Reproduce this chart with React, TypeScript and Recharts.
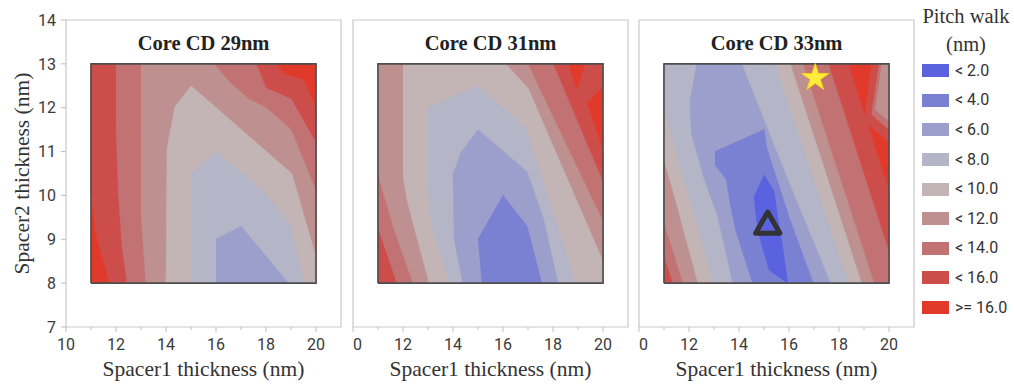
import { ReferenceArea, Scatter, ScatterChart, Symbols, XAxis, YAxis } from "recharts";

type Pt = [number, number];
type Region = { below: number; points: Pt[] };

const levelLabels = ["< 2.0", "< 4.0", "< 6.0", "< 8.0", "< 10.0", "< 12.0", "< 14.0", "< 16.0", ">= 16.0"];
const levelColors = ["#5a62e0", "#7a80d2", "#9c9ecb", "#b4b6c7", "#c3b4b5", "#be9090", "#c27272", "#cd4d4a", "#e23a2a"];

const xTicks = [10, 11, 12, 13, 14, 15, 16, 17, 18, 19, 20];
const yTicks = [7, 8, 9, 10, 11, 12, 13, 14];

// simulated grid: spacer1 11..20, spacer2 8..13
const contourBox: Pt[] = [[11, 8], [11, 13], [20, 13], [20, 8]];

// regions where pitch walk < `below`, drawn from outer to inner level
const cd29Regions: Region[] = [
  { below: 16, points: [[11, 10.0], [11, 13], [18.4, 13], [18.7, 12.78], [19.5, 12.63], [20, 12.0], [20, 8], [11.75, 8], [11.4, 8.7], [11.15, 9.3]] },
  { below: 14, points: [[12.0, 13], [17.6, 13], [18.0, 12.45], [19.0, 12.2], [20, 11.2], [20, 8], [12.45, 8], [12.25, 8.8], [12.1, 10.0], [12.0, 11.6]] },
  { below: 12, points: [[13.0, 13], [15.9, 13], [16.6, 12.55], [17.3, 12.2], [18.0, 12.0], [19.0, 11.5], [20, 10.1], [20, 8], [13.2, 8], [13.0, 9.6]] },
  { below: 10, points: [[15.0, 12.5], [19.03, 10.5], [20, 8.6], [20, 8], [14.0, 8], [14.04, 11.07], [14.36, 12.03]] },
  { below: 8, points: [[15.0, 10.5], [16.0, 11.0], [17.9, 10.1], [19.0, 9.3], [19.5, 8], [15.0, 8]] },
  { below: 6, points: [[16.0, 9.0], [17.0, 9.3], [18.9, 8], [16.0, 8]] },
];

const cd31Regions: Region[] = [
  { below: 16, points: [[11, 8], [11, 13], [18.6, 13], [18.96, 12.4], [19.3, 13], [20, 13], [20, 12.5], [19.35, 12.1], [20, 11.0], [20, 8]] },
  { below: 14, points: [[11, 9.25], [11, 13], [18.0, 13], [18.3, 12.6], [20, 10.3], [20, 8], [11.75, 8]] },
  { below: 12, points: [[11, 10.46], [11, 13], [17.0, 13], [17.4, 12.5], [20, 9.4], [20, 8], [12.4, 8], [11.6, 9.3]] },
  { below: 10, points: [[12.0, 13], [16.1, 13], [17.0, 12.45], [20, 8.5], [20, 8], [13.05, 8], [12.5, 9.16], [12.15, 9.93], [12.0, 10.46]] },
  { below: 8, points: [[13.0, 12.0], [15.0, 12.5], [16.9, 11.55], [18.9, 8], [13.88, 8], [13.15, 9.3], [13.0, 10.1]] },
  { below: 6, points: [[14.3, 10.96], [15.0, 11.5], [16.96, 10.54], [17.6, 9.5], [18.2, 8], [14.4, 8], [14.05, 9.0], [14.0, 10.5]] },
  { below: 4, points: [[15.0, 9.0], [16.0, 10.0], [16.96, 9.3], [17.55, 8], [15.15, 8]] },
];

const cd33Regions: Region[] = [
  { below: 16, points: [[11, 8], [11, 13], [18.37, 13], [20, 10.1], [20, 8]] },
  { below: 16, points: [[19.3, 13], [20, 13], [20, 11.22], [19.0, 11.7]] },
  { below: 14, points: [[11, 8.6], [11, 13], [17.57, 13], [20, 8.7], [20, 8], [11.35, 8]] },
  { below: 14, points: [[19.6, 13], [20, 13], [20, 11.5], [19.3, 11.85]] },
  { below: 12, points: [[11, 9.37], [11, 13], [16.55, 13], [19.4, 8], [11.76, 8]] },
  { below: 12, points: [[19.7, 13], [20, 13], [20, 11.7], [19.45, 11.95]] },
  { below: 10, points: [[11, 10.8], [11, 13], [16.05, 13], [18.9, 8], [12.36, 8], [11.6, 9.6]] },
  { below: 8, points: [[11, 12.0], [11, 13], [15.43, 13], [18.36, 8], [12.96, 8], [12.2, 9.6], [11.55, 10.8]] },
  { below: 6, points: [[12.3, 13], [14.1, 13], [15.85, 10.5], [17.65, 8], [13.76, 8], [13.15, 9.52], [12.6, 10.4], [12.1, 11.4], [12.04, 12.18]] },
  { below: 4, points: [[13.04, 11.0], [15.0, 11.5], [15.1, 11.1], [16.04, 9.44], [16.97, 8], [14.55, 8], [13.9, 9.14], [13.64, 9.83], [13.5, 10.36], [13.04, 10.7]] },
  { below: 2, points: [[15.0, 10.47], [15.4, 10.1], [15.55, 9.5], [15.75, 8.8], [15.95, 8.0], [15.2, 8.3], [15.05, 8.6], [14.75, 9.2], [14.6, 9.98]] },
];

const starPoint = [{ x: 17.05, y: 12.68 }];
const trianglePoint = [{ x: 15.15, y: 9.3 }];

const SERIF = "'Liberation Serif', 'Times New Roman', serif";
const SANS = "'Liberation Sans Narrow', 'Arial Narrow', Roboto, sans-serif";

const toXY = (pts: Pt[]) => pts.map(([x, y]) => ({ x, y }));
const colorFor = (below: number) => levelColors[below / 2 - 1];
const noShape = () => null;

// first label of the 2nd and 3rd panels only shows its last digit
const makeXTick = (trimFirst: boolean) =>
  function XTick(props: any) {
    const { x, y, payload } = props;
    const major = payload.value % 2 === 0;
    const trimmed = trimFirst && payload.value === 10;
    return (
      <g>
        <line x1={x} x2={x} y1={y} y2={y + (major ? 5 : 3)} stroke="#bdbdbd" />
        {major && (
          <text
            x={x}
            y={y + 12}
            dy="0.71em"
            textAnchor={trimmed ? "start" : "middle"}
            fill="#3a3a3a"
            fontSize={16}
            fontFamily={SANS}
          >
            {trimmed ? "0" : payload.value}
          </text>
        )}
      </g>
    );
  };

const fullTick = makeXTick(false);
const trimmedTick = makeXTick(true);

function yTitle(props: any) {
  const vb = props.viewBox ?? { x: 0, y: 20, width: 66, height: 307 };
  const cx = vb.x + 22;
  const cy = vb.y + vb.height / 2;
  return (
    <text
      x={cx}
      y={cy}
      transform={`rotate(-90 ${cx} ${cy})`}
      textAnchor="middle"
      dominantBaseline="central"
      fill="#333"
      fontSize={21.5}
      fontFamily={SERIF}
    >
      Spacer2 thickness (nm)
    </text>
  );
}

function Panel({
  title,
  regions,
  left,
  width,
  withYAxis,
  markers,
}: {
  title: string;
  regions: Region[];
  left: number;
  width: number;
  withYAxis?: boolean;
  markers?: boolean;
}) {
  const margin = withYAxis ? { top: 20, right: 4, bottom: 0, left: 0 } : { top: 20, right: 3, bottom: 0, left: 1 };
  return (
    <div style={{ position: "absolute", left, top: 0, width, height: 388, overflow: "hidden" }}>
      <ScatterChart width={width} height={388} margin={margin}>
        <XAxis
          type="number"
          dataKey="x"
          domain={[10, 21]}
          ticks={xTicks}
          interval={0}
          tick={withYAxis ? fullTick : trimmedTick}
          tickLine={false}
          tickSize={0}
          tickMargin={0}
          axisLine={false}
          height={61}
          label={{
            value: "Spacer1 thickness (nm)",
            position: "insideBottom",
            offset: 12,
            fill: "#333",
            fontSize: 21.5,
            fontFamily: SERIF,
          }}
        />
        {withYAxis ? (
          <YAxis
            type="number"
            dataKey="y"
            domain={[7, 14]}
            ticks={yTicks}
            interval={0}
            width={66}
            axisLine={false}
            tickLine={{ stroke: "#bdbdbd" }}
            tickSize={5}
            tickMargin={5}
            tick={{ fill: "#3a3a3a", fontSize: 16, fontFamily: SANS }}
            label={yTitle}
          />
        ) : (
          <YAxis type="number" dataKey="y" domain={[7, 14]} hide />
        )}
        <ReferenceArea x1={10} x2={21} y1={7} y2={14} fill="none" stroke="#c9c9c9" strokeWidth={1.2} />
        <ReferenceArea
          x1={11}
          x2={20}
          y1={12.95}
          y2={14}
          fill="none"
          stroke="none"
          label={{ value: title, position: "center", fill: "#222", fontSize: 20.5, fontWeight: "bold", fontFamily: SERIF }}
        />
        <Scatter
          data={toXY(contourBox)}
          shape={noShape}
          line={{ fill: levelColors[8], stroke: levelColors[8], strokeWidth: 0.5 }}
          isAnimationActive={false}
        />
        {regions.map((r, i) => (
          <Scatter
            key={i}
            data={toXY(r.points)}
            shape={noShape}
            line={{ fill: colorFor(r.below), stroke: colorFor(r.below), strokeWidth: 0.6 }}
            isAnimationActive={false}
          />
        ))}
        <Scatter
          data={toXY([...contourBox, contourBox[0]])}
          shape={noShape}
          line={{ fill: "none", stroke: "#4d4d4d", strokeWidth: 1.6, strokeLinejoin: "miter" }}
          isAnimationActive={false}
        />
        {markers && (
          <Scatter
            data={starPoint}
            shape={(p: any) => <Symbols cx={p.cx} cy={p.cy} type="star" size={230} fill="#ffec3a" stroke="#f2d21e" strokeWidth={1} />}
            isAnimationActive={false}
          />
        )}
        {markers && (
          <Scatter
            data={trianglePoint}
            shape={(p: any) => (
              <Symbols cx={p.cx} cy={p.cy} type="triangle" size={255} fill="none" stroke="#333" strokeWidth={5} strokeLinejoin="round" />
            )}
            isAnimationActive={false}
          />
        )}
      </ScatterChart>
    </div>
  );
}

function PitchLegend() {
  return (
    <div style={{ position: "absolute", left: 916, top: 0, width: 98, height: 388, color: "#333" }}>
      <div style={{ position: "absolute", left: 0, width: 100, top: 4, textAlign: "center", fontFamily: SERIF, fontSize: 20.5, lineHeight: "24px" }}>
        Pitch walk
      </div>
      <div style={{ position: "absolute", left: 0, width: 100, top: 32, textAlign: "center", fontFamily: SERIF, fontSize: 20.5, lineHeight: "24px" }}>
        (nm)
      </div>
      {levelLabels.map((label, i) => {
        const cy = 70.7 + 29.6 * i;
        return (
          <div key={label}>
            <div style={{ position: "absolute", left: 6, top: cy - 6.5, width: 27, height: 13, background: levelColors[i] }} />
            <div style={{ position: "absolute", left: 39, top: cy - 10, height: 20, lineHeight: "20px", fontFamily: SANS, fontSize: 16, color: "#333", whiteSpace: "nowrap" }}>
              {label}
            </div>
          </div>
        );
      })}
    </div>
  );
}

export default function App() {
  return (
    <div style={{ position: "absolute", left: 0, top: 0, width: 1014, height: 388, background: "#fff", overflow: "hidden" }}>
      <Panel title="Core CD 29nm" regions={cd29Regions} left={0} width={345} withYAxis />
      <Panel title="Core CD 31nm" regions={cd31Regions} left={352} width={279} />
      <Panel title="Core CD 33nm" regions={cd33Regions} left={638} width={279} markers />
      <PitchLegend />
    </div>
  );
}
